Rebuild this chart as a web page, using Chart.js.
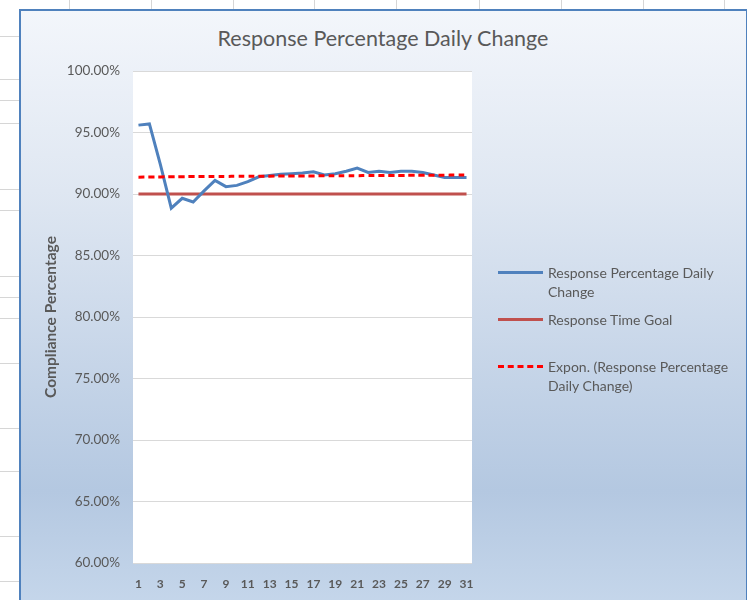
<!DOCTYPE html>
<html>
<head>
<meta charset="utf-8">
<script src="https://cdn.jsdelivr.net/npm/chart.js@4.4.1/dist/chart.umd.min.js"></script>
<style>
  html, body { margin: 0; padding: 0; }
  body { width: 747px; height: 600px; position: relative; overflow: hidden; background: #fff; font-family: Lato, "Open Sans", sans-serif; }
  .hline { position: absolute; left: 0; width: 20px; height: 1px; background: #d6d6d6; }
  .vline { position: absolute; top: 0; width: 1px; height: 10px; background: #d6d6d6; }
  #frame {
    position: absolute; left: 19px; top: 9px; width: 725px; height: 600px;
    border: 2px solid #4f81bd;
    background: linear-gradient(to bottom, #f3f6fb 0%, #dfe7f2 30%, #b4c8e1 80%, #c6d7eb 100%);
  }
  #wrap { position: absolute; left: 0; top: 0; width: 747px; height: 600px; }
  #title { position: absolute; left: 0; width: 766px; top: 24px; text-align: center; color: #595959; font-size: 21.5px; line-height: 28px; }
  #legend { position: absolute; left: 498px; top: 263px; width: 245px; color: #595959; font-size: 14px; }
  .item { display: flex; align-items: flex-start; height: 47px; }
  .swatch { width: 45px; height: 19px; position: relative; flex: none; margin-right: 5px; }
  .swatch span { position: absolute; left: 0; right: 0; top: 8px; border-top: 3px solid; }
  .label { line-height: 19px; width: 192px; }
</style>
</head>
<body>
<div id="frame"></div>
<div id="title">Response Percentage Daily Change</div>
<div id="wrap"><canvas id="chart" width="747" height="600"></canvas></div>
<div id="legend"></div>
<script>
// jours du mois
const days = ['1','2','3','4','5','6','7','8','9','10','11','12','13','14','15','16','17','18','19','20','21','22','23','24','25','26','27','28','29','30','31'];

// pourcentage de réponse journalier
const responsePct = [95.6, 95.7, 92.4, 88.85, 89.65, 89.35, 90.25, 91.1, 90.6, 90.7, 91.0, 91.4, 91.5, 91.6, 91.65, 91.7, 91.8, 91.55, 91.65, 91.85, 92.1, 91.75, 91.85, 91.75, 91.85, 91.85, 91.75, 91.55, 91.35, 91.35, 91.35];

// objectif
const goal = [90, 90, 90, 90, 90, 90, 90, 90, 90, 90, 90, 90, 90, 90, 90, 90, 90, 90, 90, 90, 90, 90, 90, 90, 90, 90, 90, 90, 90, 90, 90];

// tendance exponentielle
const trend = [91.37, 91.38, 91.39, 91.40, 91.41, 91.42, 91.42, 91.43, 91.43, 91.44, 91.44, 91.45, 91.45, 91.46, 91.46, 91.47, 91.47, 91.48, 91.48, 91.49, 91.49, 91.50, 91.50, 91.51, 91.51, 91.52, 91.52, 91.53, 91.53, 91.54, 91.54];

const yTicks = { min: 60, max: 100, step: 5 };

// lignes de la feuille de calcul derrière le graphique
[36, 79, 100, 123, 189, 210, 276, 297, 318, 363, 428, 471, 536, 581].forEach(y => {
    const d = document.createElement('div');
    d.className = 'hline'; d.style.top = y + 'px';
    document.body.insertBefore(d, document.getElementById('frame'));
});
[69, 151, 233, 314, 396, 479, 561, 643, 724].forEach(x => {
    const d = document.createElement('div');
    d.className = 'vline'; d.style.left = x + 'px';
    document.body.insertBefore(d, document.getElementById('frame'));
});

const grey = '#595959';

// fond blanc de la zone de tracé
const plotBg = {
    id: 'plotBg',
    beforeDraw(chart) {
        const a = chart.chartArea;
        chart.ctx.save();
        chart.ctx.fillStyle = '#ffffff';
        chart.ctx.fillRect(a.left, a.top, a.right - a.left, a.bottom - a.top);
        chart.ctx.restore();
    }
};

const chart = new Chart(document.getElementById('chart'), {
    type: 'line',
    data: {
        labels: days,
        datasets: [
            { label: 'Response Percentage Daily Change', data: responsePct, borderColor: '#4f81bd', borderWidth: 3, pointRadius: 0, tension: 0, order: 2 },
            { label: 'Response Time Goal', data: goal, borderColor: '#c0504d', borderWidth: 3, pointRadius: 0, order: 3 },
            { label: 'Expon. (Response Percentage Daily Change)', data: trend, borderColor: '#ff0000', borderWidth: 3, borderDash: [6, 4], pointRadius: 0, tension: 0.4, order: 1 }
        ]
    },
    options: {
        responsive: false,
        animation: false,
        layout: { padding: { left: 30, right: 275, top: 71, bottom: 0 } },
        plugins: {
            legend: { display: false },
            tooltip: { enabled: false }
        },
        scales: {
            x: {
                offset: true,
                afterFit(scale) { scale.height = 37; },
                grid: { display: false, drawTicks: false },
                border: { display: false },
                ticks: {
                    color: grey,
                    font: { family: 'Lato', size: 12, weight: 'bold' },
                    autoSkip: false,
                    maxRotation: 0,
                    padding: 14,
                    callback: (v, i) => (i % 2 === 0 ? days[i] : '')
                }
            },
            y: {
                min: yTicks.min,
                max: yTicks.max,
                afterFit(scale) { scale.width = 103; },
                grid: { color: '#d9d9d9', drawTicks: false },
                border: { display: false },
                ticks: {
                    stepSize: yTicks.step,
                    color: grey,
                    padding: 13,
                    font: { family: 'Lato', size: 13.5 },
                    callback: v => v.toFixed(2) + '%'
                },
                title: {
                    display: true,
                    text: 'Compliance Percentage',
                    color: grey,
                    font: { family: 'Lato', size: 15.5, weight: 'bold' },
                    padding: { top: 12, bottom: 0 }
                }
            }
        }
    },
    plugins: [plotBg]
});

// légende HTML (le texte passe à la ligne comme dans Excel)
const legend = document.getElementById('legend');
chart.data.datasets.forEach(ds => {
    const item = document.createElement('div');
    item.className = 'item';
    const sw = document.createElement('div');
    sw.className = 'swatch';
    const ln = document.createElement('span');
    ln.style.borderTopColor = ds.borderColor;
    if (ds.borderDash) ln.style.borderTopStyle = 'dashed';
    sw.appendChild(ln);
    const lb = document.createElement('div');
    lb.className = 'label';
    lb.textContent = ds.label;
    item.appendChild(sw);
    item.appendChild(lb);
    legend.appendChild(item);
});
</script>
</body>
</html>
